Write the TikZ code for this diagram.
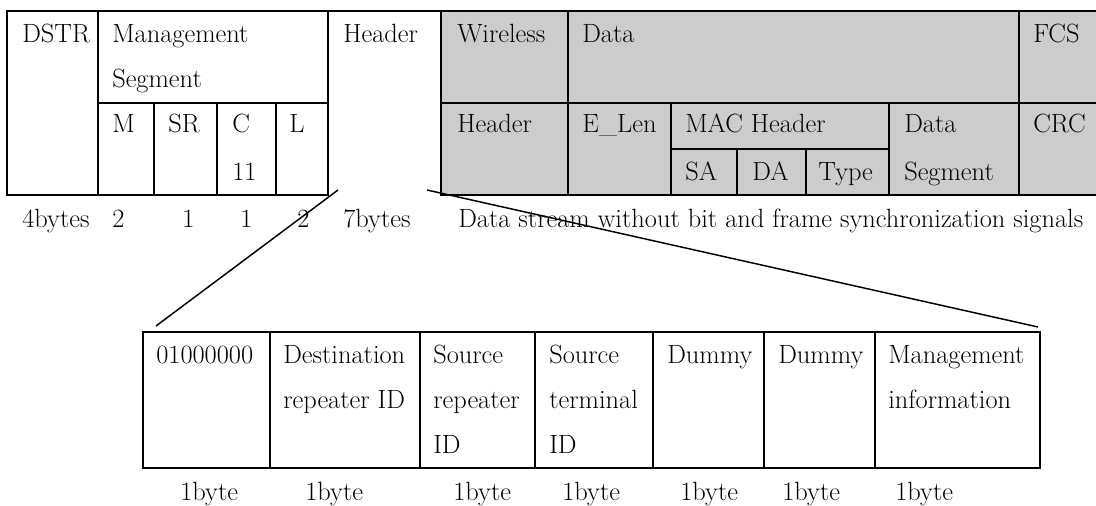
\documentclass[tikz,border=0pt]{standalone}
\definecolor{cellgray}{HTML}{CCCCCC}
\begin{document}
\begin{tikzpicture}[x=0.75pt,y=-0.75pt,
  txt/.style={anchor=base west,inner sep=0pt,font=\fontsize{19.8}{23}\selectfont},
  rule/.style={line width=1.5pt,line cap=rect},
  diag/.style={line width=1.1pt}]
\useasboundingbox (0,0) rectangle (1096,506);
% ---------- upper frame ----------
\fill[cellgray] (441,11) rectangle (1096,195);
\draw[rule] (7,11) -- (1096,11);
\draw[rule] (7,195) -- (328,195);
\draw[rule] (441,195) -- (1096,195);
\draw[rule] (7,11) -- (7,195);
\draw[rule] (98,11) -- (98,195);
\draw[rule] (98,103) -- (328,103);
\draw[rule] (154,103) -- (154,195);
\draw[rule] (217,103) -- (217,195);
\draw[rule] (276,103) -- (276,195);
\draw[rule] (328,11) -- (328,195);
\draw[rule] (441,11) -- (441,195);
\draw[rule] (441,103) -- (1096,103);
\draw[rule] (568,11) -- (568,195);
\draw[rule] (671,103) -- (671,195);
\draw[rule] (671,149) -- (889,149);
\draw[rule] (737,149) -- (737,195);
\draw[rule] (806,149) -- (806,195);
\draw[rule] (889,103) -- (889,195);
\draw[rule] (1019,11) -- (1019,195);
% texts upper
\node[txt] (dstr) at (22,43) {DSTR};
\node[txt] (mgmt1) at (112,43) {Management};
\node[txt] (mgmt2) at (112,88) {Segment};
\node[txt] (m) at (112,133) {M};
\node[txt] (sr) at (168,133) {SR};
\node[txt] (c) at (232,133) {C};
\node[txt] (c11) at (232,181) {11};
\node[txt] (l) at (289,133) {L};
\node[txt] (hdr) at (343,43) {Header};
\node[txt] (wl) at (457,43) {Wireless};
\node[txt] (data) at (582,43) {Data};
\node[txt] (fcs) at (1033,43) {FCS};
\node[txt] (whdr) at (457,133) {Header};
\node[txt] (elen) at (582,133) {E\_Len};
\node[txt] (mac) at (685,133) {MAC Header};
\node[txt] (sa) at (685,181) {SA};
\node[txt] (da) at (752,181) {DA};
\node[txt] (type) at (818,181) {Type};
\node[txt] (ds1) at (904,133) {Data};
\node[txt] (ds2) at (904,181) {Segment};
\node[txt] (crc) at (1033,133) {CRC};
% size labels
\node[txt] (s1) at (22,228) {4bytes};
\node[txt] (s2) at (112,228) {2};
\node[txt] (s3) at (182,228) {1};
\node[txt] (s4) at (240,228) {1};
\node[txt] (s5) at (297,228) {2};
\node[txt] (s6) at (343,228) {7bytes};
\node[txt] (s7) at (458,228) {Data stream without bit and frame synchronization signals};
% ---------- lower frame ----------
\draw[rule] (143,332) rectangle (1040,468);
\foreach \x in {270,420,535,653,764,875} \draw[rule] (\x,332) -- (\x,468);
\node[txt] (b1) at (156,363) {01000000};
\node[txt] (b2a) at (283,363) {Destination};
\node[txt] (b2b) at (283,408) {repeater ID};
\node[txt] (b3a) at (433,363) {Source};
\node[txt] (b3b) at (433,408) {repeater};
\node[txt] (b3c) at (433,453) {ID};
\node[txt] (b4a) at (549,363) {Source};
\node[txt] (b4b) at (549,408) {terminal};
\node[txt] (b4c) at (549,453) {ID};
\node[txt] (b5) at (667,363) {Dummy};
\node[txt] (b6) at (778,363) {Dummy};
\node[txt] (b7a) at (888,363) {Management};
\node[txt] (b7b) at (888,408) {information};
\foreach \x/\n in {180/1,305/2,453/3,562/4,680/5,782/6,895/7}
  \node[txt] (by\n) at (\x,500) {1byte};
% ---------- expansion lines ----------
\coordinate (hdrL) at (338,190);
\coordinate (subL) at (156,326);
\coordinate (hdrR) at (427,190);
\coordinate (subR) at (1038,327);
\draw[diag] (hdrL) -- (subL);
\draw[diag] (hdrR) -- (subR);
\end{tikzpicture}
\end{document}
